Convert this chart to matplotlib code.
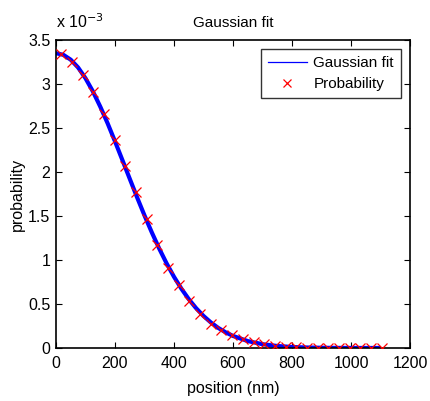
import matplotlib
matplotlib.use('Agg')
import matplotlib.pyplot as plt
from matplotlib.lines import Line2D
import numpy as np

plt.rcParams['font.family'] = ['Liberation Sans', 'DejaVu Sans']

# measured probabilities (x 1e-3)
pos = [18, 54, 90, 127, 163, 199, 235, 271, 308, 344, 380, 416, 452, 489, 525,
       561, 597, 633, 670, 706, 742, 778, 814, 851, 887, 923, 959, 995, 1032, 1068, 1104]
prob = [3.34, 3.254, 3.106, 2.913, 2.655, 2.364, 2.07, 1.77, 1.466, 1.17, 0.913,
        0.713, 0.53, 0.383, 0.276, 0.2, 0.148, 0.099, 0.065, 0.042, 0.026, 0.015,
        0.008, 0.004, 0.002, 0.001, 0.0005, 0.0002, 0.0001, 0.0, 0.0]

# fitted curve (x 1e-3)
fit_x = [0, 25, 50, 75, 100, 125, 150, 175, 200, 225, 250, 275, 300, 325, 350, 375,
         400, 425, 450, 475, 500, 525, 550, 575, 600, 650, 700, 750, 800, 850, 900,
         950, 1000, 1050, 1100]
fit_y = [3.35, 3.331, 3.276, 3.187, 3.065, 2.916, 2.743, 2.553, 2.348, 2.136, 1.923,
         1.711, 1.506, 1.312, 1.129, 0.961, 0.809, 0.674, 0.555, 0.452, 0.364, 0.290,
         0.228, 0.178, 0.137, 0.0785, 0.0431, 0.0227, 0.0114, 0.0055, 0.0025, 0.0011,
         0.0005, 0.0002, 0.0001]

fig = plt.figure(figsize=(4.3, 4.01), dpi=100)
ax = fig.add_axes([0.1302, 0.1322, 0.8233, 0.7681])

ax.plot(np.array(fit_x), np.array(fit_y) * 1e-3, color='#0000ff', lw=3.0,
        solid_capstyle='butt', zorder=2)
ax.plot(np.array(pos), np.array(prob) * 1e-3, 'x', color='#ff0000', ms=6.5, mew=0.9, zorder=3)

ax.set_xlim(0, 1200)
ax.set_ylim(0, 3.5e-3)
ax.set_xticks(np.arange(0, 1201, 200))
ax.set_yticks(np.arange(0, 3.51e-3, 0.5e-3))
ax.set_yticklabels(['0', '0.5', '1', '1.5', '2', '2.5', '3', '3.5'])
ax.tick_params(direction='in', top=True, right=True, length=4, width=0.8,
               labelsize=11.5)
ax.tick_params(axis='x', pad=6)
ax.tick_params(axis='y', pad=4)
for s in ax.spines.values():
    s.set_linewidth(1.2)

ax.set_title('Gaussian fit', fontsize=11, pad=9)
ax.set_xlabel('position (nm)', fontsize=11.5, labelpad=7)
ax.set_ylabel('probability', fontsize=11.5, labelpad=2)
fig.text(56 / 430, 1 - 28 / 401, r'x 10$^{-3}$', fontsize=11.5, va='baseline', ha='left')

handles = [Line2D([], [], color='#0000ff', lw=0.9),
           Line2D([], [], ls='none', marker='x', color='#ff0000', ms=6, mew=0.9)]
leg = ax.legend(handles, ['Gaussian fit', 'Probability'], loc='upper right',
                fontsize=11, frameon=True, fancybox=False, edgecolor='black',
                handlelength=2.6, handletextpad=0.4, borderpad=0.45, labelspacing=0.45,
                borderaxespad=0.6)
leg.get_frame().set_linewidth(1.0)

fig.savefig('out.png', dpi=100)
